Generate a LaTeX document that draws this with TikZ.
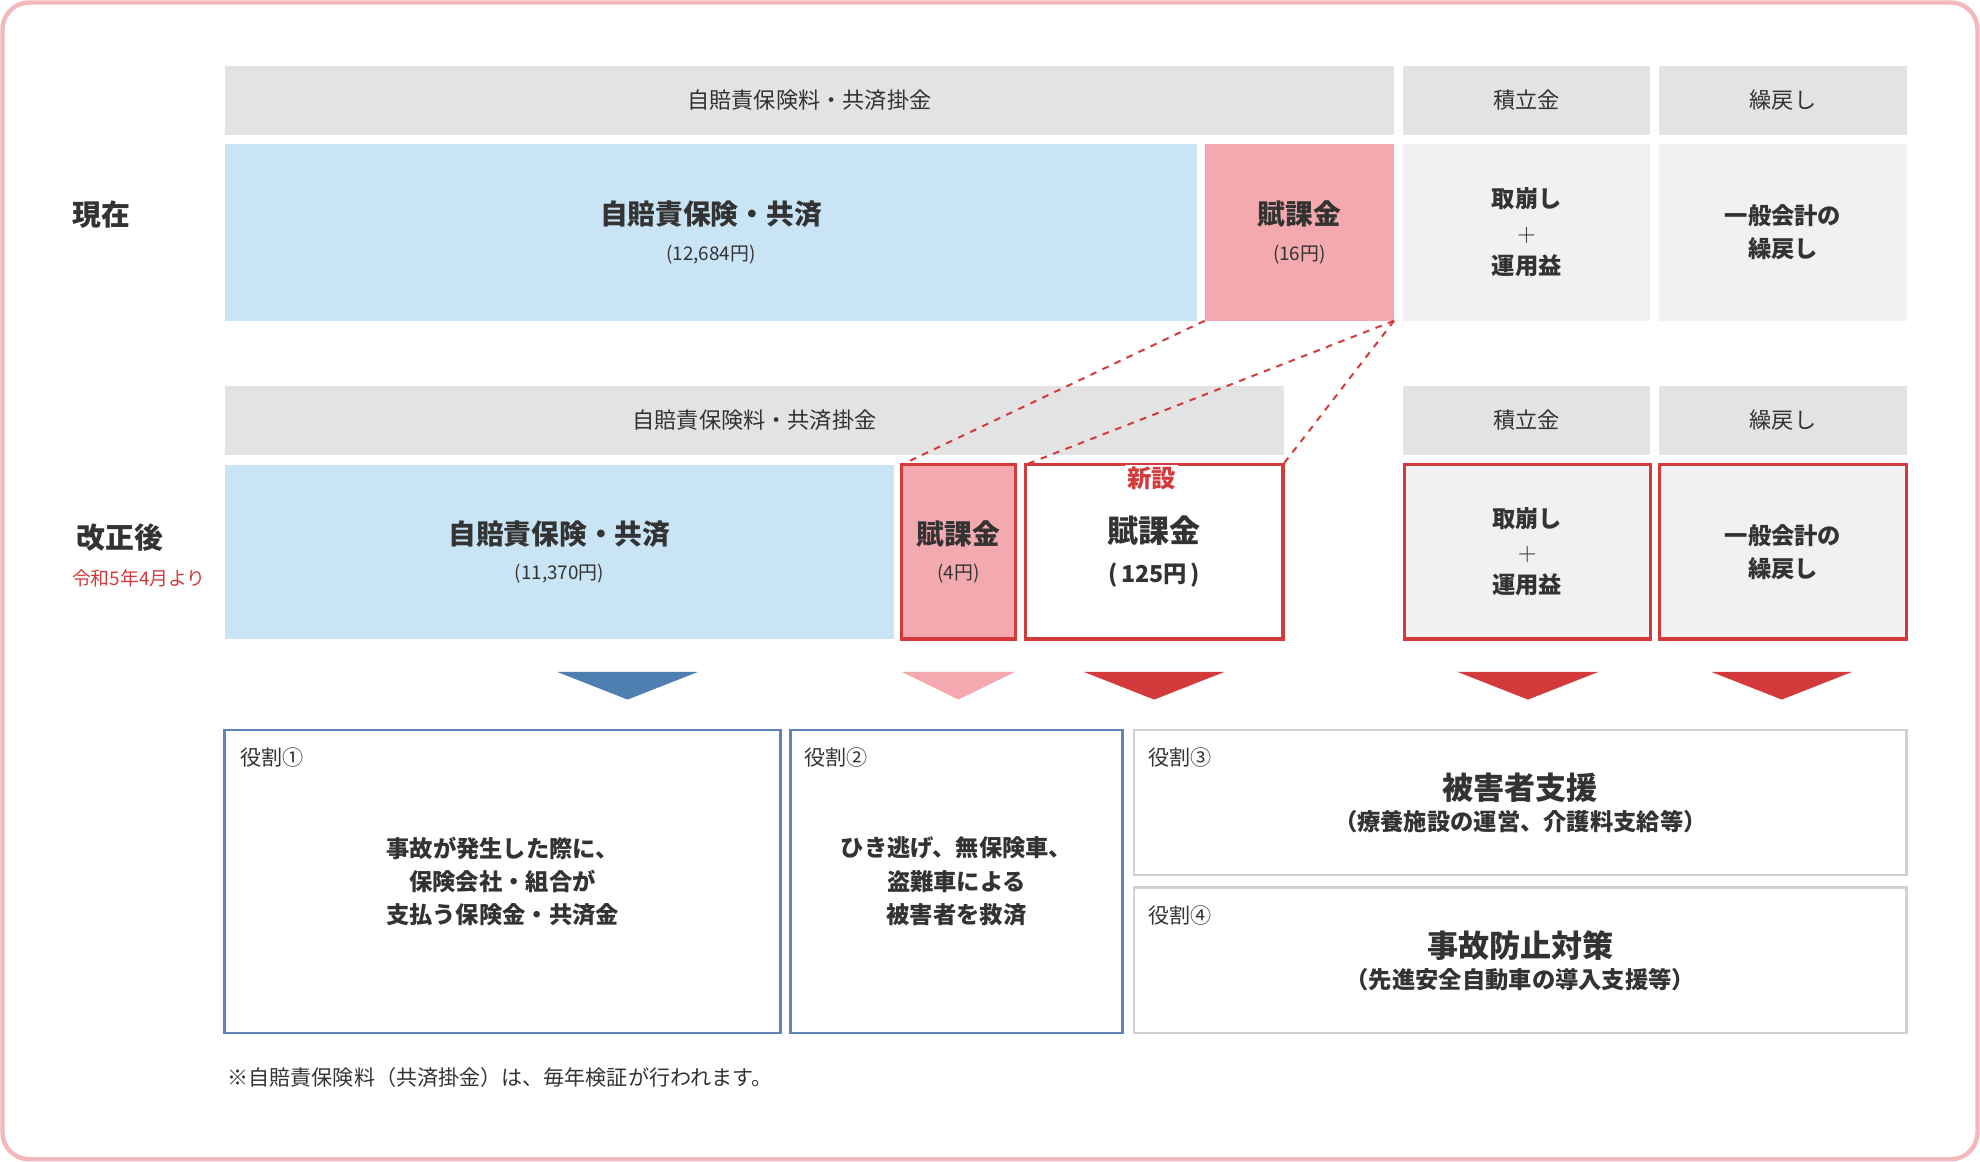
\documentclass[tikz,border=0pt]{standalone}
\usepackage{fontspec}
\setmainfont{Noto Sans CJK JP}
\usetikzlibrary{positioning}
\definecolor{hdgray}{HTML}{E3E3E3}
\definecolor{ltgray}{HTML}{F1F1F1}
\definecolor{skyblue}{HTML}{C8E4F5}
\definecolor{pinkfill}{HTML}{F3A9AD}
\definecolor{redline}{HTML}{D33A3C}
\definecolor{bluetri}{HTML}{4F7FB0}
\definecolor{blueline}{HTML}{5F86B8}
\definecolor{frame}{HTML}{F4B8BC}
\definecolor{txt}{HTML}{333333}
\tikzset{cellbox/.style={rectangle, inner sep=0pt, outer sep=0pt, align=center, text=txt},
  header/.style={cellbox, fill=hdgray, font=\fontsize{10}{12}\selectfont},
  midfont/.style={font=\fontsize{10.5}{15}\selectfont\bfseries},
  redbox/.style={draw=redline, line width=1.4pt},
  rolebox/.style={draw=blueline, line width=1.2pt, fill=white},
  graybox/.style={draw=black!18, line width=1.2pt, fill=white},
  rolelbl/.style={anchor=west, text=txt, font=\fontsize{9.5}{11}\selectfont}}
\newcommand{\cell}[7]{\node[#6, minimum width={(#4-#2)*0.02cm}, minimum height={(#5-#3)*0.02cm}] (#1) at ({(#2+#4)/2},{(#3+#5)/2}) {#7};}
\newcommand{\bigsz}{\fontsize{12.5}{15}\selectfont\bfseries}
\newcommand{\hugesz}{\fontsize{14}{17}\selectfont\bfseries}
\newcommand{\smlsz}{\fontsize{8.5}{10}\selectfont\mdseries}
\newcommand{\midsz}{\fontsize{10.5}{13}\selectfont\bfseries}
\begin{document}
\begin{tikzpicture}[x=0.02cm, y=-0.02cm]
\useasboundingbox (0,0) rectangle (1568,920);
\draw[frame, line width=2pt, rounded corners=12pt] (2,2) rectangle (1566,918);
% current
\node[text=txt, font=\fontsize{13}{15}\selectfont\bfseries] (now) at (80,170) {現在};
\cell{hd_a}{178}{52}{1104}{107}{header}{自賠責保険料・共済掛金}
\cell{hd_b}{1111}{52}{1307}{107}{header}{積立金}
\cell{hd_c}{1314}{52}{1510}{107}{header}{繰戻し}
\cell{ins}{178}{114}{948}{254}{cellbox, fill=skyblue}{\bigsz 自賠責保険・共済\\[4pt]\smlsz (12,684円)}
\cell{levy}{954}{114}{1104}{254}{cellbox, fill=pinkfill}{\bigsz 賦課金\\[4pt]\smlsz (16円)}
\cell{fund}{1111}{114}{1307}{254}{cellbox, fill=ltgray, midfont}{取崩し\\$+$\\運用益}
\cell{ret}{1314}{114}{1510}{254}{cellbox, fill=ltgray, midfont}{一般会計の\\繰戻し}
% revised
\node[text=txt, font=\fontsize{13}{15}\selectfont\bfseries] (after) at (95,426) {改正後};
\node[text=redline, font=\fontsize{8.5}{10}\selectfont] (date) at (110,458) {令和5年4月より};
\cell{hd_d}{178}{306}{1017}{360}{header}{自賠責保険料・共済掛金}
\cell{hd_e}{1111}{306}{1307}{360}{header}{積立金}
\cell{hd_f}{1314}{306}{1510}{360}{header}{繰戻し}
\cell{ins2}{178}{368}{708}{506}{cellbox, fill=skyblue}{\bigsz 自賠責保険・共済\\[4pt]\smlsz (11,370円)}
\cell{levy2}{714}{368}{804}{506}{cellbox, fill=pinkfill, redbox}{\bigsz 賦課金\\[4pt]\smlsz (4円)}
\cell{levy3}{812}{368}{1016}{506}{cellbox, fill=white, redbox}{\hugesz 賦課金\\[6pt]\midsz (\,125円\,)}
\node[fill=white, inner sep=1pt, text=redline, font=\fontsize{11}{12}\selectfont\bfseries] (new) at (912,379) {新設};
\cell{fund2}{1112}{368}{1307}{506}{cellbox, fill=ltgray, redbox, midfont}{取崩し\\$+$\\運用益}
\cell{ret2}{1314}{368}{1510}{506}{cellbox, fill=ltgray, redbox, midfont}{一般会計の\\繰戻し}
\draw[redline, dashed, line width=0.9pt] (levy.south west) -- (levy2.north west);
\draw[redline, dashed, line width=0.9pt] (levy.south east) -- (levy3.north west);
\draw[redline, dashed, line width=0.9pt] (levy.south east) -- (levy3.north east);
% arrows down
\fill[bluetri] (441,532) -- (553,532) -- (497,554) -- cycle;
\fill[pinkfill] (714,532) -- (804,532) -- (759,554) -- cycle;
\fill[redline] (858,532) -- (970,532) -- (914,554) -- cycle;
\fill[redline] (1154,532) -- (1266,532) -- (1210,554) -- cycle;
\fill[redline] (1355,532) -- (1467,532) -- (1411,554) -- cycle;
% roles
\cell{role1}{178}{578}{618}{818}{cellbox, rolebox, midfont}{事故が発生した際に、\\保険会社・組合が\\支払う保険金・共済金}
\cell{role2}{626}{578}{889}{818}{cellbox, rolebox, midfont}{ひき逃げ、無保険車、\\盗難車による\\被害者を救済}
\cell{role3}{898}{578}{1510}{693}{cellbox, graybox}{\hugesz 被害者支援\\[2pt]\midsz （療養施設の運営、介護料支給等）}
\cell{role4}{898}{703}{1510}{818}{cellbox, graybox}{\hugesz 事故防止対策\\[2pt]\midsz （先進安全自動車の導入支援等）}
\node[rolelbl] (lbl1) at (184,600) {役割①};
\node[rolelbl] (lbl2) at (631,600) {役割②};
\node[rolelbl] (lbl3) at (903,600) {役割③};
\node[rolelbl] (lbl4) at (903,725) {役割④};
\node[anchor=west, text=txt, font=\fontsize{9.5}{11}\selectfont] (note) at (174,853) {※自賠責保険料（共済掛金）は、毎年検証が行われます。};
\end{tikzpicture}
\end{document}
